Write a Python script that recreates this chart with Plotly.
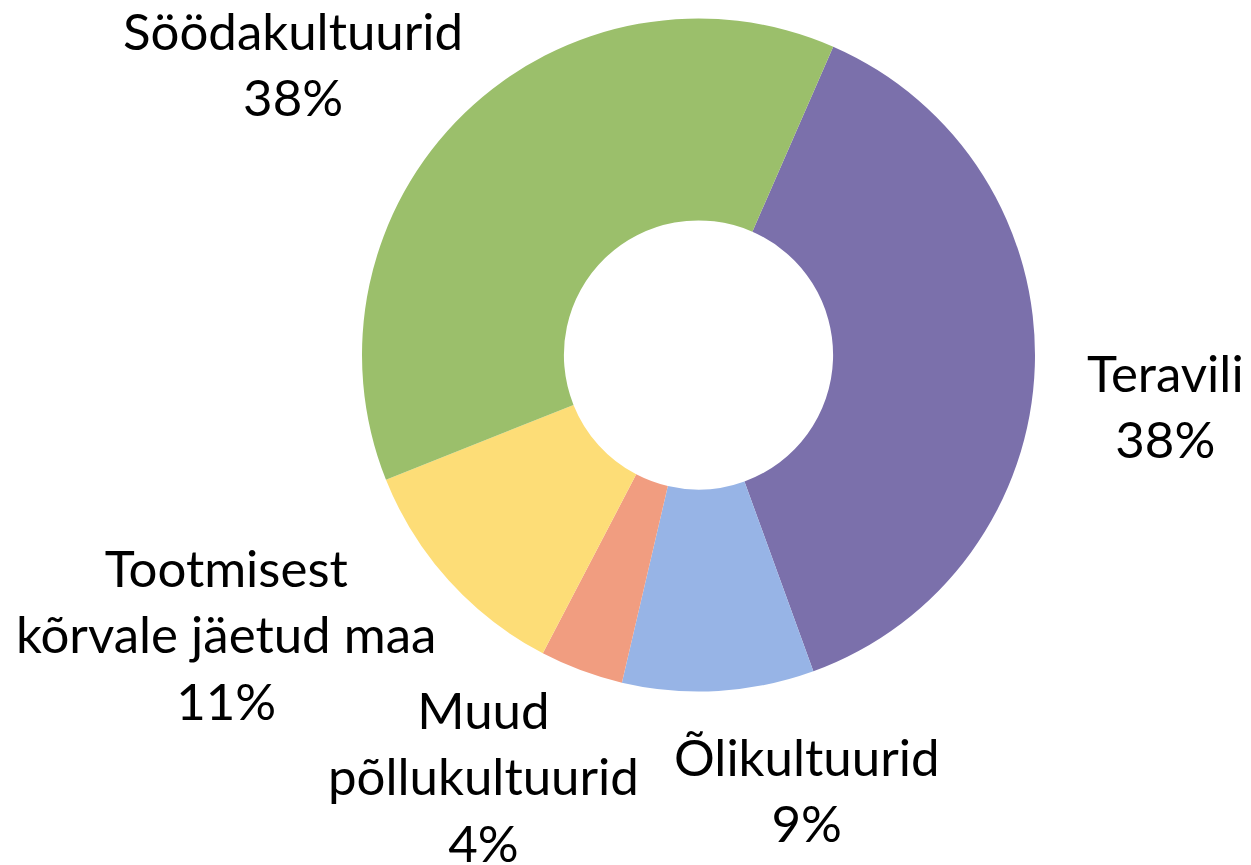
import plotly.graph_objects as go

categories = ["Teravili", "Õlikultuurid", "Muud põllukultuurid",
              "Tootmisest kõrvale jäetud maa", "Söödakultuurid"]
values = [37.9, 9.2, 4.0, 11.3, 37.6]
label_lines = ["Teravili", "Õlikultuurid", "Muud<br>põllukultuurid",
               "Tootmisest<br>kõrvale jäetud maa", "Söödakultuurid"]
colors = ["#7B70AB", "#97B4E6", "#F19D80", "#FDDD77", "#9BBF6B"]

W, H = 1251, 865
OFF = 8  # page body margin
# label block centres (pixels in the screenshot)
label_pos = [(1165, 405), (807, 789), (483, 776), (226, 634), (293, 64)]

total = sum(values)
pcts = [f"{round(v / total * 100)}%" for v in values]

fig = go.Figure(go.Pie(
    labels=categories, values=values, sort=False, direction="clockwise",
    rotation=23.6, hole=0.4, textinfo="none", hoverinfo="label+percent",
    marker=dict(colors=colors, line=dict(width=0)),
    domain=dict(x=[(362 - OFF) / W, (1035 - OFF) / W],
                y=[1 - (691.5 - OFF) / H, 1 - (18.5 - OFF) / H]),
    showlegend=False,
))

for txt, p, (px, py) in zip(label_lines, pcts, label_pos):
    fig.add_annotation(text=f"{txt}<br>{p}", x=(px - OFF) / W,
                       y=1 - (py - OFF) / H,
                       xref="paper", yref="paper", xanchor="center",
                       yanchor="middle", align="center", showarrow=False,
                       font=dict(family="Lato", size=51, color="#000000"))

fig.update_layout(width=W, height=H, margin=dict(l=0, r=0, t=0, b=0),
                  paper_bgcolor="white", plot_bgcolor="white")
fig.write_html("out.html")
